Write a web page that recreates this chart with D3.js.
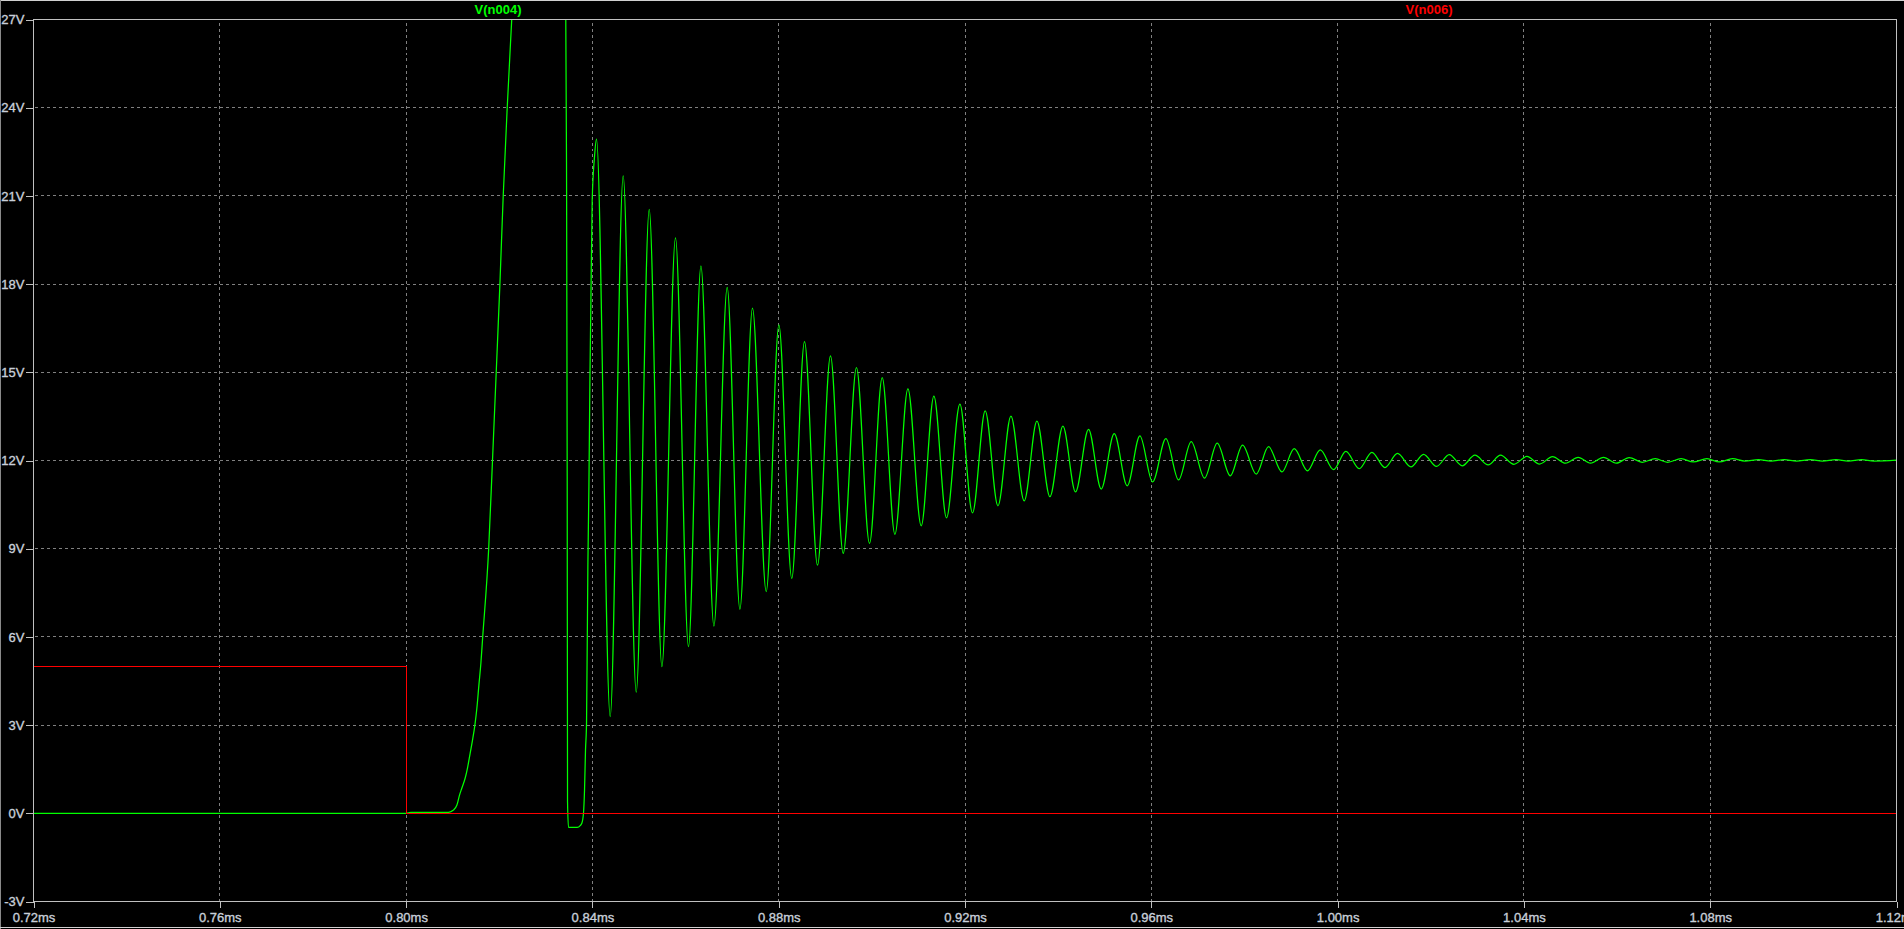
<!DOCTYPE html>
<html><head><meta charset="utf-8">
<script src="https://cdn.jsdelivr.net/npm/d3@7"></script>
<style>
html,body{margin:0;padding:0;background:#000;overflow:hidden}
svg{display:block}
text{font-family:"Liberation Sans",Arial,sans-serif;font-size:13px}
</style></head><body>
<svg id="c" width="1904" height="929"></svg>
<script>
// ---- data ----
const xTickValues = [0.72,0.76,0.80,0.84,0.88,0.92,0.96,1.00,1.04,1.08,1.12];
const xTickLabels = ["0.72ms","0.76ms","0.80ms","0.84ms","0.88ms","0.92ms","0.96ms","1.00ms","1.04ms","1.08ms","1.12ms"];
const yTickValues = [-3,0,3,6,9,12,15,18,21,24,27];
const yTickLabels = ["-3V","0V","3V","6V","9V","12V","15V","18V","21V","24V","27V"];
const seriesNames = ["V(n004)","V(n006)"];

// V(n006): control pulse (ms, V)
const n006Time = [0.72, 0.80, 0.80, 1.12];
const n006Volt = [5, 5, 0, 0];

// V(n004): rise, overshoot and ringing (ms, V)
const n004Time = [
 0.72,0.80,0.8010,0.8091,0.81018,0.81091,0.81147,0.81198,0.81269,0.81318,0.81376,0.81426,0.81477,0.81520,0.81563,0.81606,0.81640,
 0.81773,0.81855,0.81935,0.82014,0.82085,0.82171,0.82268,0.82365,0.8285,0.8335,0.83427,0.83444,0.83459,0.83466,0.83487,0.83674,
 0.83738,0.83775,0.83809,0.83831,0.83852,0.83874,0.83903,0.83925,0.83946,0.83968,0.83996,0.84045,0.84088,
 0.84382,0.84661,0.84941,0.85220,0.85492,0.85784,0.86063,0.86330,0.86609,0.86894,0.87167,0.87437,0.87732,0.88004,0.88280,0.88554,
 0.88833,0.89112,0.89385,0.89670,0.89950,0.90222,0.90495,0.90774,0.91060,0.91332,0.91603,0.91890,0.92161,0.92434,0.92707,0.92986,
 0.93271,0.93544,0.93823,0.94102,0.94373,0.94652,0.94924,0.95204,0.95483,0.95755,0.96027,0.96313,0.96585,0.96857,0.97143,0.97415,
 0.97695,0.97959,0.98253,0.98517,0.98804,0.99069,0.99354,0.99627,0.99913,1.00178,1.00464,1.00736,1.01016,1.01286,1.01574,1.01845,
 1.02124,1.02396,1.02676,1.02948,1.03233,1.03498,1.03785,1.04064,1.04335,1.04614,1.04893,1.05165,1.05431,1.05709,1.05983,1.06261,
 1.06541,1.06819,1.07084,1.07377,1.07636,1.07929,1.08194,1.08479,1.08745,1.09037,1.09303,1.09589,1.09853,1.10147,1.10412,1.10699,
 1.10963,1.11249,1.11515,1.12
];
const n004Volt = [
 0,0,0.034,0.034,0.11,0.28,0.62,0.86,1.20,1.54,2.05,2.49,3.00,3.58,4.36,5.11,5.89,
 9.0,12.0,15.0,18.0,21.0,24.0,27.0,30.0,38.0,33.0,27.5,22.16,11.45,0.39,-0.48,-0.48,
 -0.42,-0.33,0.01,0.79,2.15,3.07,8.45,11.11,14.64,17.46,20.86,22.32,22.93,
 3.29,21.68,4.12,20.54,4.99,19.57,5.67,18.62,6.37,17.89,6.94,17.18,7.54,16.61,7.99,16.04,
 8.44,15.56,8.84,15.16,9.18,14.82,9.49,14.44,9.78,14.19,10.05,13.92,10.22,13.69,10.46,13.51,
 10.63,13.34,10.77,13.17,10.93,13.06,11.03,12.91,11.14,12.84,11.27,12.74,11.34,12.64,11.40,12.59,
 11.48,12.52,11.54,12.47,11.61,12.40,11.65,12.36,11.69,12.31,11.72,12.28,11.76,12.24,11.78,12.21,
 11.80,12.20,11.82,12.18,11.85,12.18,11.87,12.14,11.88,12.13,11.91,12.11,11.91,12.11,11.91,12.10,
 11.94,12.06,11.94,12.06,11.95,12.06,11.95,12.06,11.98,12.03,11.98,12.03,11.98,12.03,11.98,12.03,
 11.98,12.03,11.98,12.01
];

// ---- drawing ----
const W = 1904, H = 929;
const pLeft = 33.5, pRight = 1896.5, pTop = 19.5, pBottom = 901.5;
const x = d3.scaleLinear().domain([0.72, 1.12]).range([pLeft, pRight]);
const y = d3.scaleLinear().domain([-3, 27]).range([pBottom, pTop]);
const axisColor = "#c0c0c0", textColor = "#c8cfd9", gridColor = "#808080";
const colors = ["#00ff00", "#ff0000"];

const svg = d3.select("#c");
svg.append("rect").attr("width", W).attr("height", H).attr("fill", "#000");

// window borders
svg.append("line").attr("x1",0).attr("x2",W).attr("y1",0.5).attr("y2",0.5).attr("stroke","#d0d0d0");
svg.append("line").attr("x1",0.5).attr("x2",0.5).attr("y1",0).attr("y2",H).attr("stroke","#8a8a8a");
svg.append("line").attr("x1",0).attr("x2",W).attr("y1",927.5).attr("y2",927.5).attr("stroke","#d0d0d0");

// grid
const grid = svg.append("g").attr("stroke", gridColor).attr("stroke-dasharray", "3,3").attr("shape-rendering","crispEdges");
grid.selectAll("line.v").data(xTickValues.filter(v => v > 0.72 + 1e-9 && v < 1.12 - 1e-9)).enter().append("line")
  .attr("x1", d => Math.round(x(d) - 0.5) + 0.5).attr("x2", d => Math.round(x(d) - 0.5) + 0.5)
  .attr("y1", pTop + 3).attr("y2", pBottom);
grid.selectAll("line.h").data(yTickValues.filter(v => v > -3 && v < 27)).enter().append("line")
  .attr("y1", d => Math.round(y(d) - 0.5) + 0.5).attr("y2", d => Math.round(y(d) - 0.5) + 0.5)
  .attr("x1", pLeft + 1).attr("x2", pRight);

// axes
const yAxis = d3.axisLeft(y).tickValues(yTickValues).tickFormat((d, i) => yTickLabels[i]).tickSize(8).tickPadding(1);
const gy = svg.append("g").attr("transform", `translate(${pLeft},0)`).call(yAxis);
const xAxis = d3.axisBottom(x).tickValues(xTickValues).tickFormat((d, i) => xTickLabels[i]).tickSize(6).tickPadding(5);
const gx = svg.append("g").attr("transform", `translate(0,${pBottom})`).call(xAxis);
[gx, gy].forEach(g => {
  g.select(".domain").remove();
  g.selectAll("line").attr("stroke", axisColor).attr("shape-rendering","crispEdges");
  g.selectAll("text").attr("fill", textColor).attr("stroke", textColor).attr("stroke-width", 0.35)
    .attr("font-family", '"Liberation Sans",Arial,sans-serif').attr("font-size", 13);
});

// clip
svg.append("clipPath").attr("id", "plotclip").append("rect")
  .attr("x", pLeft).attr("y", pTop).attr("width", pRight - pLeft).attr("height", pBottom - pTop);

const plot = svg.append("g").attr("clip-path", "url(#plotclip)");
const n004 = n004Time.map((t, i) => [t, n004Volt[i]]);
const n006 = n006Time.map((t, i) => [t, n006Volt[i]]);

const smooth = d3.line().x(d => x(d[0])).y(d => y(d[1])).curve(d3.curveMonotoneX);
const straight = d3.line().x(d => x(d[0])).y(d => y(d[1]));

plot.append("path").attr("d", smooth(n004)).attr("fill", "none").attr("stroke", colors[0])
  .attr("stroke-width", 1.25).attr("stroke-linejoin", "round");
plot.append("path").attr("d", straight(n006)).attr("fill", "none").attr("stroke", colors[1])
  .attr("stroke-width", 1).attr("shape-rendering", "crispEdges");

// frame
svg.append("rect").attr("x", pLeft).attr("y", pTop).attr("width", pRight - pLeft).attr("height", pBottom - pTop)
  .attr("fill", "none").attr("stroke", axisColor).attr("shape-rendering","crispEdges");

// trace labels
svg.append("text").attr("x", 498).attr("y", 13.5).attr("text-anchor", "middle").attr("fill", colors[0])
  .attr("font-weight", "bold").text(seriesNames[0]);
svg.append("text").attr("x", 1429).attr("y", 13.5).attr("text-anchor", "middle").attr("fill", colors[1])
  .attr("font-weight", "bold").text(seriesNames[1]);
</script>
</body></html>
